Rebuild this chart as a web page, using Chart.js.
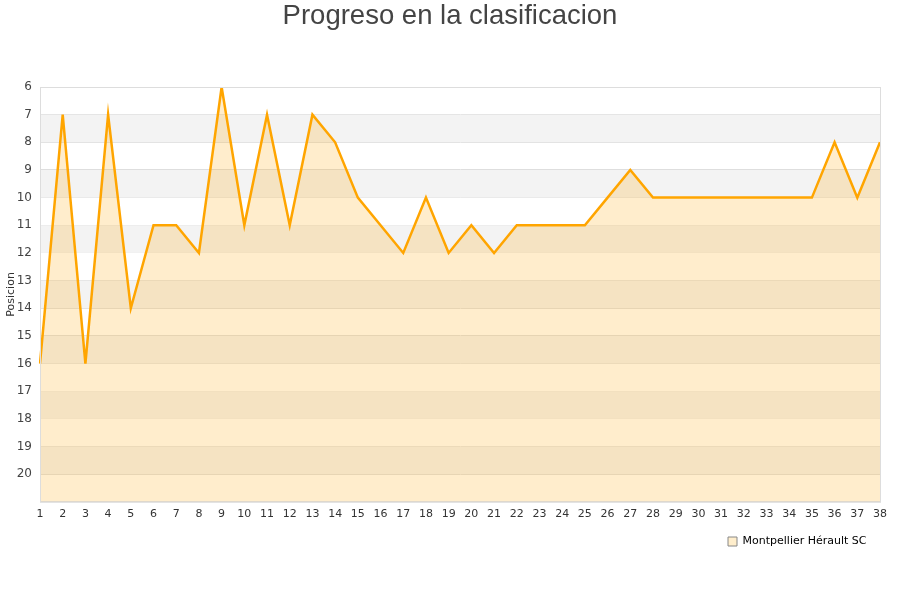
<!DOCTYPE html>
<html>
<head>
<meta charset="utf-8">
<script src="https://cdn.jsdelivr.net/npm/chart.js@4.4.1/dist/chart.umd.min.js"></script>
<style>
  body { margin: 0; background: #fff; }
  #wrap { width: 900px; height: 600px; }
</style>
</head>
<body>
<div id="wrap"><canvas id="posChart" width="900" height="600"></canvas></div>
<script>
// Jornadas
const jornadas = Array.from({ length: 38 }, (_, i) => String(i + 1));
// Posicion por jornada
const posiciones = [16, 7, 16, 7, 14, 11, 11, 12, 6, 11, 7, 11, 7, 8, 10, 11, 12, 10, 12, 11,
                    12, 11, 11, 11, 11, 10, 9, 10, 10, 10, 10, 10, 10, 10, 10, 8, 10, 8];
const equipo = 'Montpellier Hérault SC';
const tituloTexto = 'Progreso en la clasificacion';

// bandas alternas en el fondo + marco del area
const bandas = {
    id: 'bandas',
    beforeDatasetsDraw(chart) {
        const { ctx, chartArea, scales } = chart;
        const y = scales.y;
        ctx.save();
        for (let v = 7; v < 21; v += 2) {
            const top = y.getPixelForValue(v);
            const bot = y.getPixelForValue(v + 1);
            ctx.fillStyle = '#f3f3f3';
            ctx.fillRect(chartArea.left, top, chartArea.right - chartArea.left, bot - top);
        }
        ctx.restore();
    },
    afterDraw(chart) {
        const { ctx, chartArea } = chart;
        ctx.save();
        ctx.strokeStyle = '#dddddd';
        ctx.lineWidth = 1;
        ctx.strokeRect(chartArea.left + 0.5, chartArea.top + 0.5,
            chartArea.right - chartArea.left, chartArea.bottom - chartArea.top);
        ctx.restore();
    }
};

const ctx = document.getElementById('posChart').getContext('2d');
new Chart(ctx, {
    type: 'line',
    data: {
        labels: jornadas,
        datasets: [{
            label: equipo,
            data: posiciones,
            borderColor: '#FFA500',
            backgroundColor: 'rgba(255, 165, 0, 0.2)',
            borderWidth: 2.5,
            pointRadius: 0,
            tension: 0,
            fill: 'start'
        }]
    },
    options: {
        responsive: false,
        animation: false,
        layout: { padding: { left: 0, right: 0, top: 0, bottom: 43 } },
        plugins: {
            title: {
                display: true,
                text: tituloTexto,
                color: '#444444',
                font: { family: 'Liberation Sans', size: 27.5, weight: 'normal' },
                padding: { top: 0, bottom: 54 }
            },
            legend: {
                position: 'bottom',
                align: 'end',
                labels: {
                    boxWidth: 9,
                    boxHeight: 9,
                    padding: 9,
                    color: '#000',
                    font: { family: 'DejaVu Sans', size: 11 },
                    generateLabels: (chart) => [{
                        text: equipo + '       ',
                        fillStyle: '#ffeecc',
                        strokeStyle: '#888888',
                        lineWidth: 1,
                        datasetIndex: 0
                    }]
                }
            },
            tooltip: { enabled: false }
        },
        scales: {
            x: {
                offset: false,
                grid: { display: false, drawTicks: false },
                border: { color: '#dddddd' },
                ticks: {
                    color: '#333333',
                    font: { family: 'DejaVu Sans', size: 11 },
                    maxRotation: 0,
                    autoSkip: false,
                    padding: 6
                },
                afterFit: (scale) => { scale.paddingRight = 20; }
            },
            y: {
                reverse: true,
                min: 6,
                max: 21,
                grid: { color: '#dddddd', drawTicks: false },
                border: { color: '#dddddd' },
                title: {
                    display: true,
                    text: 'Posicion',
                    color: '#333333',
                    font: { family: 'DejaVu Sans', size: 11 },
                    padding: { top: 5, bottom: 0 }
                },
                ticks: {
                    stepSize: 1,
                    color: '#444444',
                    font: { family: 'DejaVu Sans', size: 12 },
                    padding: 8,
                    callback: (v) => (v === 21 ? '' : v)
                },
                afterFit: (scale) => { scale.width = 40; }
            }
        }
    },
    plugins: [bandas]
});
</script>
</body>
</html>
